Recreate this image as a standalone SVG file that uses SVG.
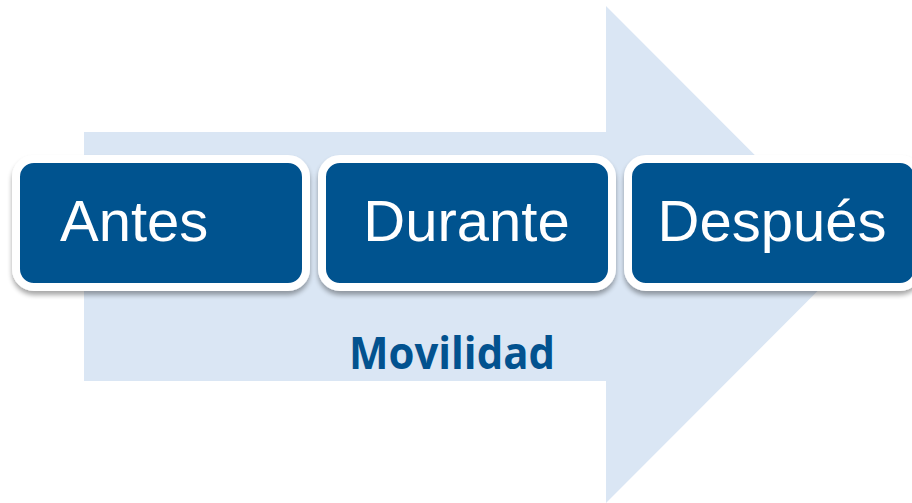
<svg xmlns="http://www.w3.org/2000/svg" width="912" height="503" viewBox="0 0 912 503">
<defs>
<filter id="sh" x="-10%" y="-20%" width="120%" height="150%">
<feGaussianBlur in="SourceAlpha" stdDeviation="2.5"/>
<feOffset dx="0" dy="4" result="b"/>
<feComponentTransfer><feFuncA type="linear" slope="0.35"/></feComponentTransfer>
<feMerge><feMergeNode/><feMergeNode in="SourceGraphic"/></feMerge>
</filter>
<style>
.box{fill:#02528F;stroke:#FFFFFF;stroke-width:8}
.lbl{font-family:"Liberation Sans",Arial,sans-serif;font-size:58px;fill:#FFFFFF}
.mov{font-family:"Open Sans","Noto Sans",sans-serif;font-weight:bold;font-size:45px;fill:#02528F}
</style>
</defs>
<rect width="912" height="503" fill="#FFFFFF"/>
<g id="arrow">
<polygon points="84,132 606,132 606,6 854,254.5 606,503 606,381 84,381" fill="#DAE6F4"/>
<text class="mov" x="349" y="369" textLength="206" lengthAdjust="spacingAndGlyphs">Movilidad</text>
</g>
<g id="connectors"></g>
<g id="antes" filter="url(#sh)">
<rect class="box" x="16" y="159" width="290" height="128" rx="18"/>
<text class="lbl" x="60" y="241">Antes</text>
</g>
<g id="durante" filter="url(#sh)">
<rect class="box" x="322" y="159" width="290" height="128" rx="18"/>
<text class="lbl" x="466.5" y="241" text-anchor="middle">Durante</text>
</g>
<g id="despues" filter="url(#sh)">
<rect class="box" x="628" y="159" width="290" height="128" rx="18"/>
<text class="lbl" x="772" y="241" text-anchor="middle">Después</text>
</g>
</svg>
